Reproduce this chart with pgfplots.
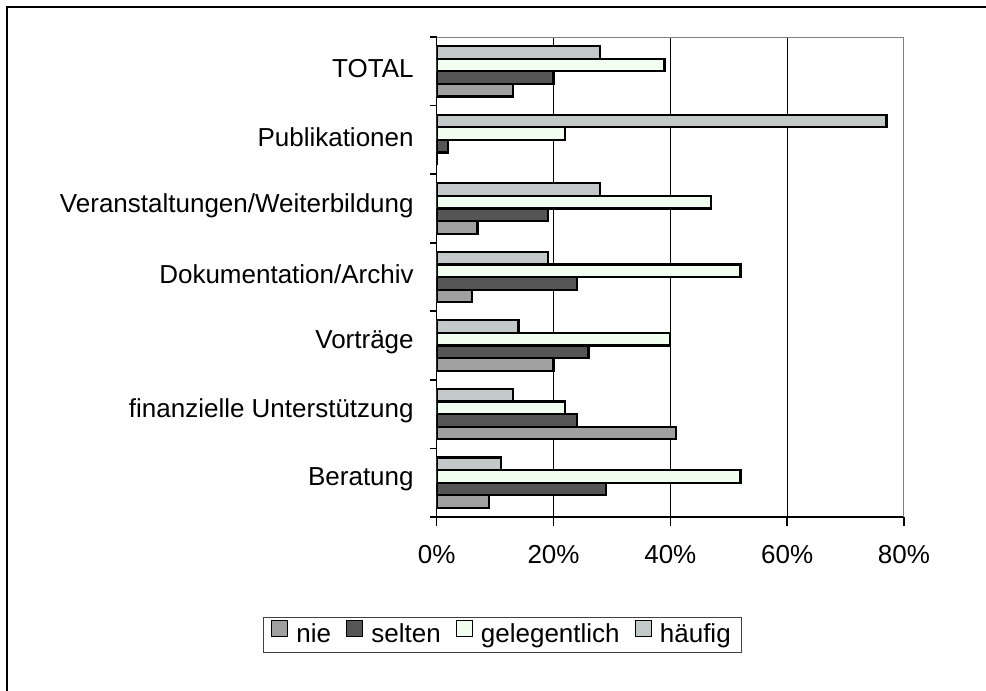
\documentclass[border=0pt]{standalone}
\usepackage{pgfplots}
\pgfplotsset{compat=1.18}
\usepackage{fontspec}
\setmainfont{Liberation Sans}
\definecolor{cnie}{RGB}{160,160,160}
\definecolor{csel}{RGB}{85,85,85}
\definecolor{cgel}{RGB}{240,255,240}
\definecolor{chae}{RGB}{195,201,201}
\definecolor{cframe}{RGB}{128,128,128}
\begin{document}
\fontsize{13pt}{15.6pt}\selectfont
\begin{tikzpicture}
\draw[black, line width=1pt] (3.5pt,-360pt) -- (3.5pt,-3.5pt) -- (510pt,-3.5pt);
\begin{axis}[
  at={(218.35pt,-258.5pt)}, anchor=south west,
  scale only axis, width=233.65pt, height=240pt,
  xbar, bar width=6.3pt,
  xmin=0, xmax=80, ymin=-0.5, ymax=6.5,
  axis x line*=bottom, axis y line*=left,
  axis line style={black, line width=0.8pt},
  tick style={black, line width=0.8pt},
  tick align=outside,
  major tick length=4.5pt, minor tick length=3.5pt,
  xtick={0,20,40,60,80},
  xticklabels={0\%,20\%,40\%,60\%,80\%},
  ytick={0,...,6},
  yticklabels={Beratung, finanzielle Unterstützung, Vorträge, Dokumentation/Archiv, Veranstaltungen/Weiterbildung, Publikationen, TOTAL},
  minor ytick={-0.5,0.5,...,6.5},
  major y tick style={draw=none},
  xmajorgrids,
  major grid style={black, line width=0.5pt},
  every tick label/.append style={font=\fontsize{13pt}{15.6pt}\selectfont},
  xticklabel style={yshift=-5pt},
  yticklabel style={xshift=-2.5pt, yshift=1.5pt},
  legend columns=-1,
  legend style={at={(0.1408,-0.2458)}, anchor=center,
    draw={rgb,255:red,64;green,64;blue,64}, line width=0.6pt,
    font=\fontsize{13pt}{15.6pt}\selectfont,
    inner xsep=4pt, inner ysep=1.5pt,
    /tikz/every odd column/.append style={column sep=2.5pt},
    /tikz/every even column/.append style={column sep=6pt},
    nodes={inner sep=1.5pt}},
  mylegend/.style={legend image code/.code={\draw[##1,/tikz/.cd,line width=0.6pt] (0pt,-0.6pt) rectangle (8pt,7.4pt);}},
]
\addplot[fill=cnie, draw=black, line width=1.1pt, bar shift=-9.45pt, mylegend]
  coordinates {(9,0) (41,1) (20,2) (6,3) (7,4) (0,5) (13,6)};
\addlegendentry{nie}
\addplot[fill=csel, draw=black, line width=1.1pt, bar shift=-3.15pt, mylegend]
  coordinates {(29,0) (24,1) (26,2) (24,3) (19,4) (2,5) (20,6)};
\addlegendentry{selten}
\addplot[fill=cgel, draw=black, line width=1.1pt, bar shift=3.15pt, mylegend]
  coordinates {(52,0) (22,1) (40,2) (52,3) (47,4) (22,5) (39,6)};
\addlegendentry{gelegentlich}
\addplot[fill=chae, draw=black, line width=1.1pt, bar shift=9.45pt, mylegend]
  coordinates {(11,0) (13,1) (14,2) (19,3) (28,4) (77,5) (28,6)};
\addlegendentry{häufig}
\draw[cframe, line width=0.8pt] (rel axis cs:0,1) -- (rel axis cs:1,1) -- (rel axis cs:1,0);
\end{axis}
\pgfresetboundingbox
\path[use as bounding box] (0,0) rectangle (493pt,-345.5pt);
\end{tikzpicture}
\end{document}
